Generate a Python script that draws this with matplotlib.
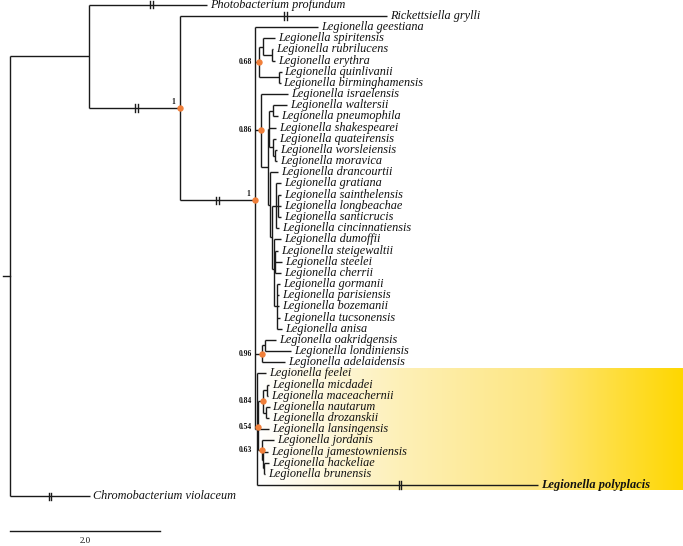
"""Phylogeny of Legionella with the L. polyplacis highlight (rectangular cladogram)."""
import matplotlib
matplotlib.use("Agg")
import matplotlib.pyplot as plt
import numpy as np
from matplotlib.colors import LinearSegmentedColormap

plt.rcParams["font.family"] = ["Liberation Serif", "DejaVu Serif"]


def leaf(name, bl, brk=None):
    return {"name": name, "bl": bl, "brk": brk, "kids": [], "sup": None}


def clade(kids, bl, sup=None, brk=None, above=False):
    return {"name": None, "bl": bl, "brk": brk, "kids": kids, "sup": sup,
            "above": above}


# branch lengths in tree units (scale bar = 2.0); brk = where the "||" sits
L = "Legionella "
LEG_068 = clade([
    clade([leaf(L + "spiritensis", 0.164),
           clade([leaf(L + "rubrilucens", 0.024), leaf(L + "erythra", 0.044)], 0.120)],
          0.053),
    clade([leaf(L + "quinlivanii", 0.033), leaf(L + "birminghamensis", 0.020)], 0.271),
], 0.043, sup="0.68")

LEG_H1 = clade([
    clade([leaf(L + "waltersii", 0.191), leaf(L + "pneumophila", 0.071)], 0.043),
    leaf(L + "shakespearei", 0.087),
    clade([leaf(L + "quateirensis", 0.040),
           clade([leaf(L + "worsleiensis", 0.033), leaf(L + "moravica", 0.033)], 0.027)],
          0.047),
], 0.016)

LEG_H2 = clade([
    leaf(L + "drancourtii", 0.100),
    clade([
        clade([leaf(L + "gratiana", 0.067),
               clade([leaf(L + "sainthelensis", 0.040), leaf(L + "longbeachae", 0.040),
                      leaf(L + "santicrucis", 0.040)], 0.027),
               leaf(L + "cincinnatiensis", 0.047)], 0.053),
        clade([leaf(L + "dumoffii", 0.087),
               clade([leaf(L + "steigewaltii", 0.040), leaf(L + "steelei", 0.087),
                      leaf(L + "cherrii", 0.073)], 0.013),
               clade([leaf(L + "gormanii", 0.044), leaf(L + "parisiensis", 0.037),
                      leaf(L + "bozemanii", 0.037), leaf(L + "tucsonensis", 0.044),
                      leaf(L + "anisa", 0.071)], 0.029)], 0.033),
    ], 0.020),
], 0.029)

LEG_086 = clade([leaf(L + "israelensis", 0.360), clade([LEG_H1, LEG_H2], 0.097)],
                0.073, sup="0.86")

LEG_096 = clade([
    clade([leaf(L + "oakridgensis", 0.147), leaf(L + "londiniensis", 0.347)], 0.044),
    leaf(L + "adelaidensis", 0.311),
], 0.083, sup="0.96")

LEG_054 = clade([
    clade([clade([leaf(L + "micdadei", 0.037), leaf(L + "maceachernii", 0.017)], 0.045),
           clade([leaf(L + "nautarum", 0.047), leaf(L + "drozanskii", 0.040)], 0.036)],
          0.067, sup="0.84"),
    leaf(L + "lansingensis", 0.149),
    clade([leaf(L + "jordanis", 0.163),
           clade([leaf(L + "jamestowniensis", 0.063),
                  clade([leaf(L + "hackeliae", 0.064), leaf(L + "brunensis", 0.013)], 0.016)],
                 0.013)], 0.053, sup="0.63"),
], 0.013, sup="0.54")

HIGHLIGHT = clade([leaf(L + "feelei", 0.116), LEG_054,
                   leaf(L + "polyplacis", 3.747, brk=0.508)], 0.024)

LEGIONELLA = clade([leaf(L + "geestiana", 0.837), LEG_068, LEG_086, LEG_096, HIGHLIGHT],
                   1.007, sup="1", brk=0.50, above=True)

TREE = clade([
    clade([leaf("Photobacterium profundum", 1.565, brk=0.53),
           clade([leaf("Rickettsiella grylli", 2.756, brk=0.51), LEGIONELLA],
                 1.209, sup="1", brk=0.52, above=True)], 1.057),
    leaf("Chromobacterium violaceum", 1.067, brk=0.50),
], 0.0)

BOLD_TAXA = [L + "polyplacis"]
SCALE_LEN = 2.0

LINE = "#1a1a1a"
DOT = "#f07f3a"


def layout(node, x0=0.0, counter=[0]):
    node["x"] = x0 + node["bl"]
    if not node["kids"]:
        node["y"] = counter[0]
        counter[0] += 1
    else:
        for k in node["kids"]:
            layout(k, node["x"], counter)
        node["y"] = float(np.mean([k["y"] for k in node["kids"]]))
    return node


def walk(node):
    yield node
    for k in node["kids"]:
        yield from walk(k)


layout(TREE)

fig = plt.figure(figsize=(6.83, 5.46), dpi=100)
ax = fig.add_axes([0, 0, 1, 1])
px = 75.0                       # pixels per tree unit
ax.set_xlim(-10 / px, 673 / px)
ax.set_ylim((546 - 4.65) / 11.175, -4.65 / 11.175)
ax.axis("off")

# yellow gradient behind the polyplacis group
lo = min(n["y"] for n in walk(HIGHLIGHT) if not n["kids"]) - 0.45
hi = max(n["y"] for n in walk(HIGHLIGHT) if not n["kids"]) + 0.45
cmap = LinearSegmentedColormap.from_list("hl", ["#ffffff", "#fdf0b8", "#fee680", "#ffd700"])
grad = np.linspace(0, 1, 256)[None, :]
ax.imshow(grad, cmap=cmap, aspect="auto", extent=(HIGHLIGHT["x"], 673 / px, hi, lo),
          zorder=0)

tick = 0.33
gap = 1.3 / px
label_x = LEGIONELLA["x"] - 3.5 / px      # inner support values sit left of the genus stem
for n in walk(TREE):
    if n is not TREE:
        x_par = n["x"] - n["bl"]
        ax.plot([x_par, n["x"]], [n["y"], n["y"]], color=LINE, lw=1.0,
                solid_capstyle="butt", zorder=2)
        if n["brk"] is not None:
            xb = x_par + n["brk"] * n["bl"]
            for dx in (-gap, gap):
                ax.plot([xb + dx, xb + dx], [n["y"] - tick, n["y"] + tick],
                        color=LINE, lw=1.0, zorder=3)
    if n["kids"]:
        ys = [k["y"] for k in n["kids"]]
        ax.plot([n["x"], n["x"]], [min(ys), max(ys)], color=LINE, lw=1.0,
                solid_capstyle="butt", zorder=2)
    else:
        bold = n["name"] in BOLD_TAXA
        ax.text(n["x"] + 3 / px, n["y"], n["name"], va="center", ha="left",
                fontsize=8.8 if not bold else 8.9, fontstyle="italic",
                fontweight="bold" if bold else "normal", color="#111111", zorder=4)
    if n["sup"] is not None:
        ax.plot(n["x"], n["y"], "o", color=DOT, ms=4.6, mec="none", zorder=5)
        if n.get("above"):
            ax.text(n["x"] - 5 / px, n["y"] - 0.55, n["sup"], ha="right", va="center",
                    fontsize=5.5, fontweight="bold", color="#111111")
        else:
            ax.text(label_x, n["y"], n["sup"], ha="right", va="center",
                    fontsize=5.5, fontweight="bold", color="#111111")

# little stub into the root
ax.plot([-7 / px, 0], [TREE["y"], TREE["y"]], color=LINE, lw=1.0)

# scale bar
ax.plot([0, SCALE_LEN], [47.1, 47.1], color=LINE, lw=1.0)
ax.text(SCALE_LEN / 2, 48.0, f"{SCALE_LEN:.1f}", ha="center", va="center",
        fontsize=6.5, color="#111111")

fig.savefig("out.png", dpi=100)
